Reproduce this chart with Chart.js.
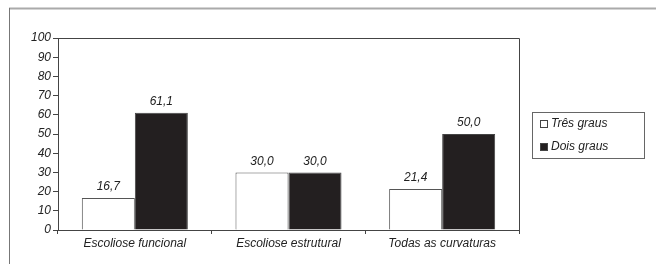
<!DOCTYPE html>
<html>
<head>
<meta charset="utf-8">
<script src="https://cdn.jsdelivr.net/npm/chart.js@4/dist/chart.umd.min.js"></script>
<style>
  html, body { margin: 0; padding: 0; background: #fff; }
  #wrap { width: 656px; height: 264px; position: relative; }
</style>
</head>
<body>
<div id="wrap"><canvas id="chart"></canvas></div>
<script>
// -- DATA --
const categories = ['Escoliose funcional', 'Escoliose estrutural', 'Todas as curvaturas'];
const tresGraus = [16.7, 30.0, 21.4];
const doisGraus = [61.1, 30.0, 50.0];
const seriesNames = ['Três graus', 'Dois graus'];

const FONT = '"Liberation Sans", Arial, sans-serif';
const fmt = v => v.toFixed(1).replace('.', ',');

// frame, plot box, value labels and legend box
const decorPlugin = {
    id: 'decor',
    beforeDraw(chart) {
        const ctx = chart.ctx;
        ctx.save();
        ctx.strokeStyle = '#aaa';
        ctx.lineWidth = 2;
        ctx.beginPath();
        ctx.moveTo(9, 8.5); ctx.lineTo(656, 8.5);
        ctx.stroke();
        ctx.strokeStyle = '#777';
        ctx.lineWidth = 1;
        ctx.beginPath();
        ctx.moveTo(9.5, 8); ctx.lineTo(9.5, 264);
        ctx.stroke();
        ctx.restore();
    },
    afterDraw(chart) {
        const ctx = chart.ctx;
        const a = chart.chartArea;
        ctx.save();
        // top + right edges of the plot
        ctx.strokeStyle = '#444';
        ctx.lineWidth = 1;
        ctx.beginPath();
        ctx.moveTo(a.left, Math.round(a.top) + 0.5);
        ctx.lineTo(Math.round(a.right) + 0.5, Math.round(a.top) + 0.5);
        ctx.lineTo(Math.round(a.right) + 0.5, a.bottom);
        ctx.stroke();

        // value labels
        ctx.fillStyle = '#222';
        ctx.font = 'italic 12px ' + FONT;
        ctx.textAlign = 'center';
        ctx.textBaseline = 'bottom';
        chart.data.datasets.forEach((ds, i) => {
            chart.getDatasetMeta(i).data.forEach((bar, j) => {
                ctx.fillText(fmt(ds.data[j]), bar.x, bar.y - 5);
            });
        });

        // legend
        const lx = 532, ly = 112, lw = 112, lh = 46;
        ctx.strokeStyle = '#666';
        ctx.strokeRect(lx + 0.5, ly + 0.5, lw, lh);
        ctx.textAlign = 'left';
        ctx.textBaseline = 'middle';
        chart.data.datasets.forEach((ds, i) => {
            const cy = ly + 12 + i * 23;
            ctx.fillStyle = ds.backgroundColor;
            ctx.fillRect(lx + 8, cy - 4, 8, 8);
            ctx.strokeStyle = '#444';
            ctx.strokeRect(lx + 8.5, cy - 3.5, 7, 7);
            ctx.fillStyle = '#222';
            ctx.fillText(ds.label, lx + 19, cy);
        });
        ctx.restore();
    }
};

new Chart(document.getElementById('chart'), {
    type: 'bar',
    data: {
        labels: categories,
        datasets: [
            { label: seriesNames[0], data: tresGraus, backgroundColor: '#ffffff', borderColor: '#555', borderWidth: 1 },
            { label: seriesNames[1], data: doisGraus, backgroundColor: '#231f20', borderColor: '#444', borderWidth: 1 }
        ]
    },
    options: {
        responsive: true,
        maintainAspectRatio: false,
        animation: false,
        layout: { padding: { left: 10, top: 38, right: 137, bottom: 14 } },
        plugins: { legend: { display: false }, tooltip: { enabled: false } },
        datasets: { bar: { categoryPercentage: 0.69, barPercentage: 1.0 } },
        scales: {
            x: {
                afterFit: s => { s.height = 20; },
                grid: { display: true, drawOnChartArea: false, tickLength: 4, color: '#444' },
                border: { color: '#444' },
                ticks: { color: '#222', padding: 2, font: { family: FONT, size: 12, style: 'italic' } }
            },
            y: {
                min: 0, max: 100,
                afterFit: s => { s.width = 48; },
                grid: { display: true, drawOnChartArea: false, tickLength: 5, color: '#444' },
                border: { color: '#444' },
                ticks: { stepSize: 10, color: '#222', padding: 2, font: { family: FONT, size: 12, style: 'italic' } }
            }
        }
    },
    plugins: [decorPlugin]
});
</script>
</body>
</html>
